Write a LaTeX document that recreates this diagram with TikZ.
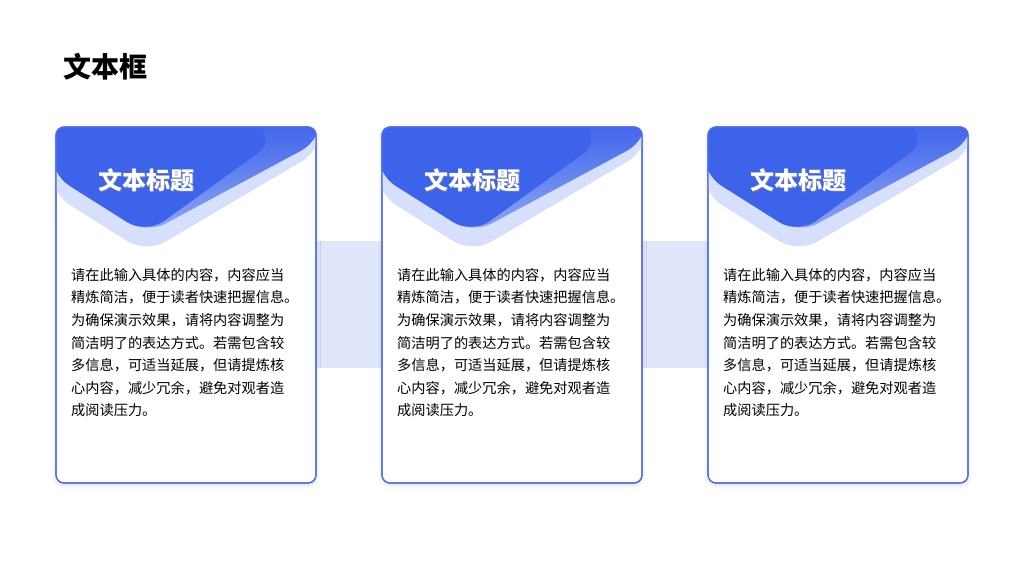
\documentclass[tikz,border=0pt]{standalone}
\usepackage{fontspec}
\setmainfont{Noto Sans CJK SC}
\newfontfamily\cjk{Noto Sans CJK SC}
\usetikzlibrary{shadows.blur}
\definecolor{cardblue}{HTML}{4A6CF0}
\definecolor{deepblue}{HTML}{3D63EA}
\definecolor{paleblue}{HTML}{8FA8F4}
\definecolor{bandblue}{HTML}{E1E7FB}
\definecolor{lightv}{HTML}{D6DFFB}
\tikzset{
 cardbox/.style={draw=cardblue,line width=1.2pt,rounded corners=8pt,fill=white},
 bodytext/.style={anchor=north west,align=left,font=\fontsize{14.2}{22.6}\selectfont,text=black,inner sep=0pt},
 titletext/.style={anchor=center,font=\fontsize{24}{28}\selectfont\bfseries,text=white,inner sep=0pt}
}
\begin{document}
\begin{tikzpicture}[x=1pt,y=-1pt]
\useasboundingbox (0,0) rectangle (1024,576);
\node[anchor=west,font=\fontsize{28}{32}\selectfont\bfseries,inner sep=0pt] (pagetitle) at (63,67) {文本框};
\fill[bandblue] (316,241) rectangle (382,368);
\fill[bandblue] (642,241) rectangle (708,368);
\foreach \x/\n in {56/a,382/b,708/c}{
 \begin{scope}[shift={(\x,0)}]
 \draw[cardbox,blur shadow={shadow xshift=0pt,shadow yshift=-2pt,shadow opacity=15,shadow blur radius=4pt}] (0,127) rectangle (260,483);
 \begin{scope}
  \clip[rounded corners=8pt] (0,127) rectangle (260,483);
  \fill[lightv,rounded corners=22pt] (-5,120) -- (265,120) -- (265,150) -- (90,253) -- (-5,193) -- cycle;
  \shade[left color=deepblue,right color=paleblue,shading angle=0,rounded corners=22pt]
    (-5,120) -- (265,120) -- (265,140) -- (90,234) -- (-5,174) -- cycle;
  \fill[deepblue,rounded corners=22pt] (-5,120) -- (170,120) -- (192,120) -- (220,140) -- (90,234) -- (-5,174) -- cycle;
 \end{scope}
 \node[titletext,text=black!45,opacity=0.6] at (91.5,181.5) {文本标题};
 \node[titletext] (t\n) at (90,180) {文本标题};
 \node[bodytext] (b\n) at (15,268) {请在此输入具体的内容，内容应当\\精炼简洁，便于读者快速把握信息。\\为确保演示效果，请将内容调整为\\简洁明了的表达方式。若需包含较\\多信息，可适当延展，但请提炼核\\心内容，减少冗余，避免对观者造\\成阅读压力。};
 \draw[cardblue,line width=1.2pt,rounded corners=8pt] (0,127) rectangle (260,483);
 \end{scope}
}
\end{tikzpicture}
\end{document}
